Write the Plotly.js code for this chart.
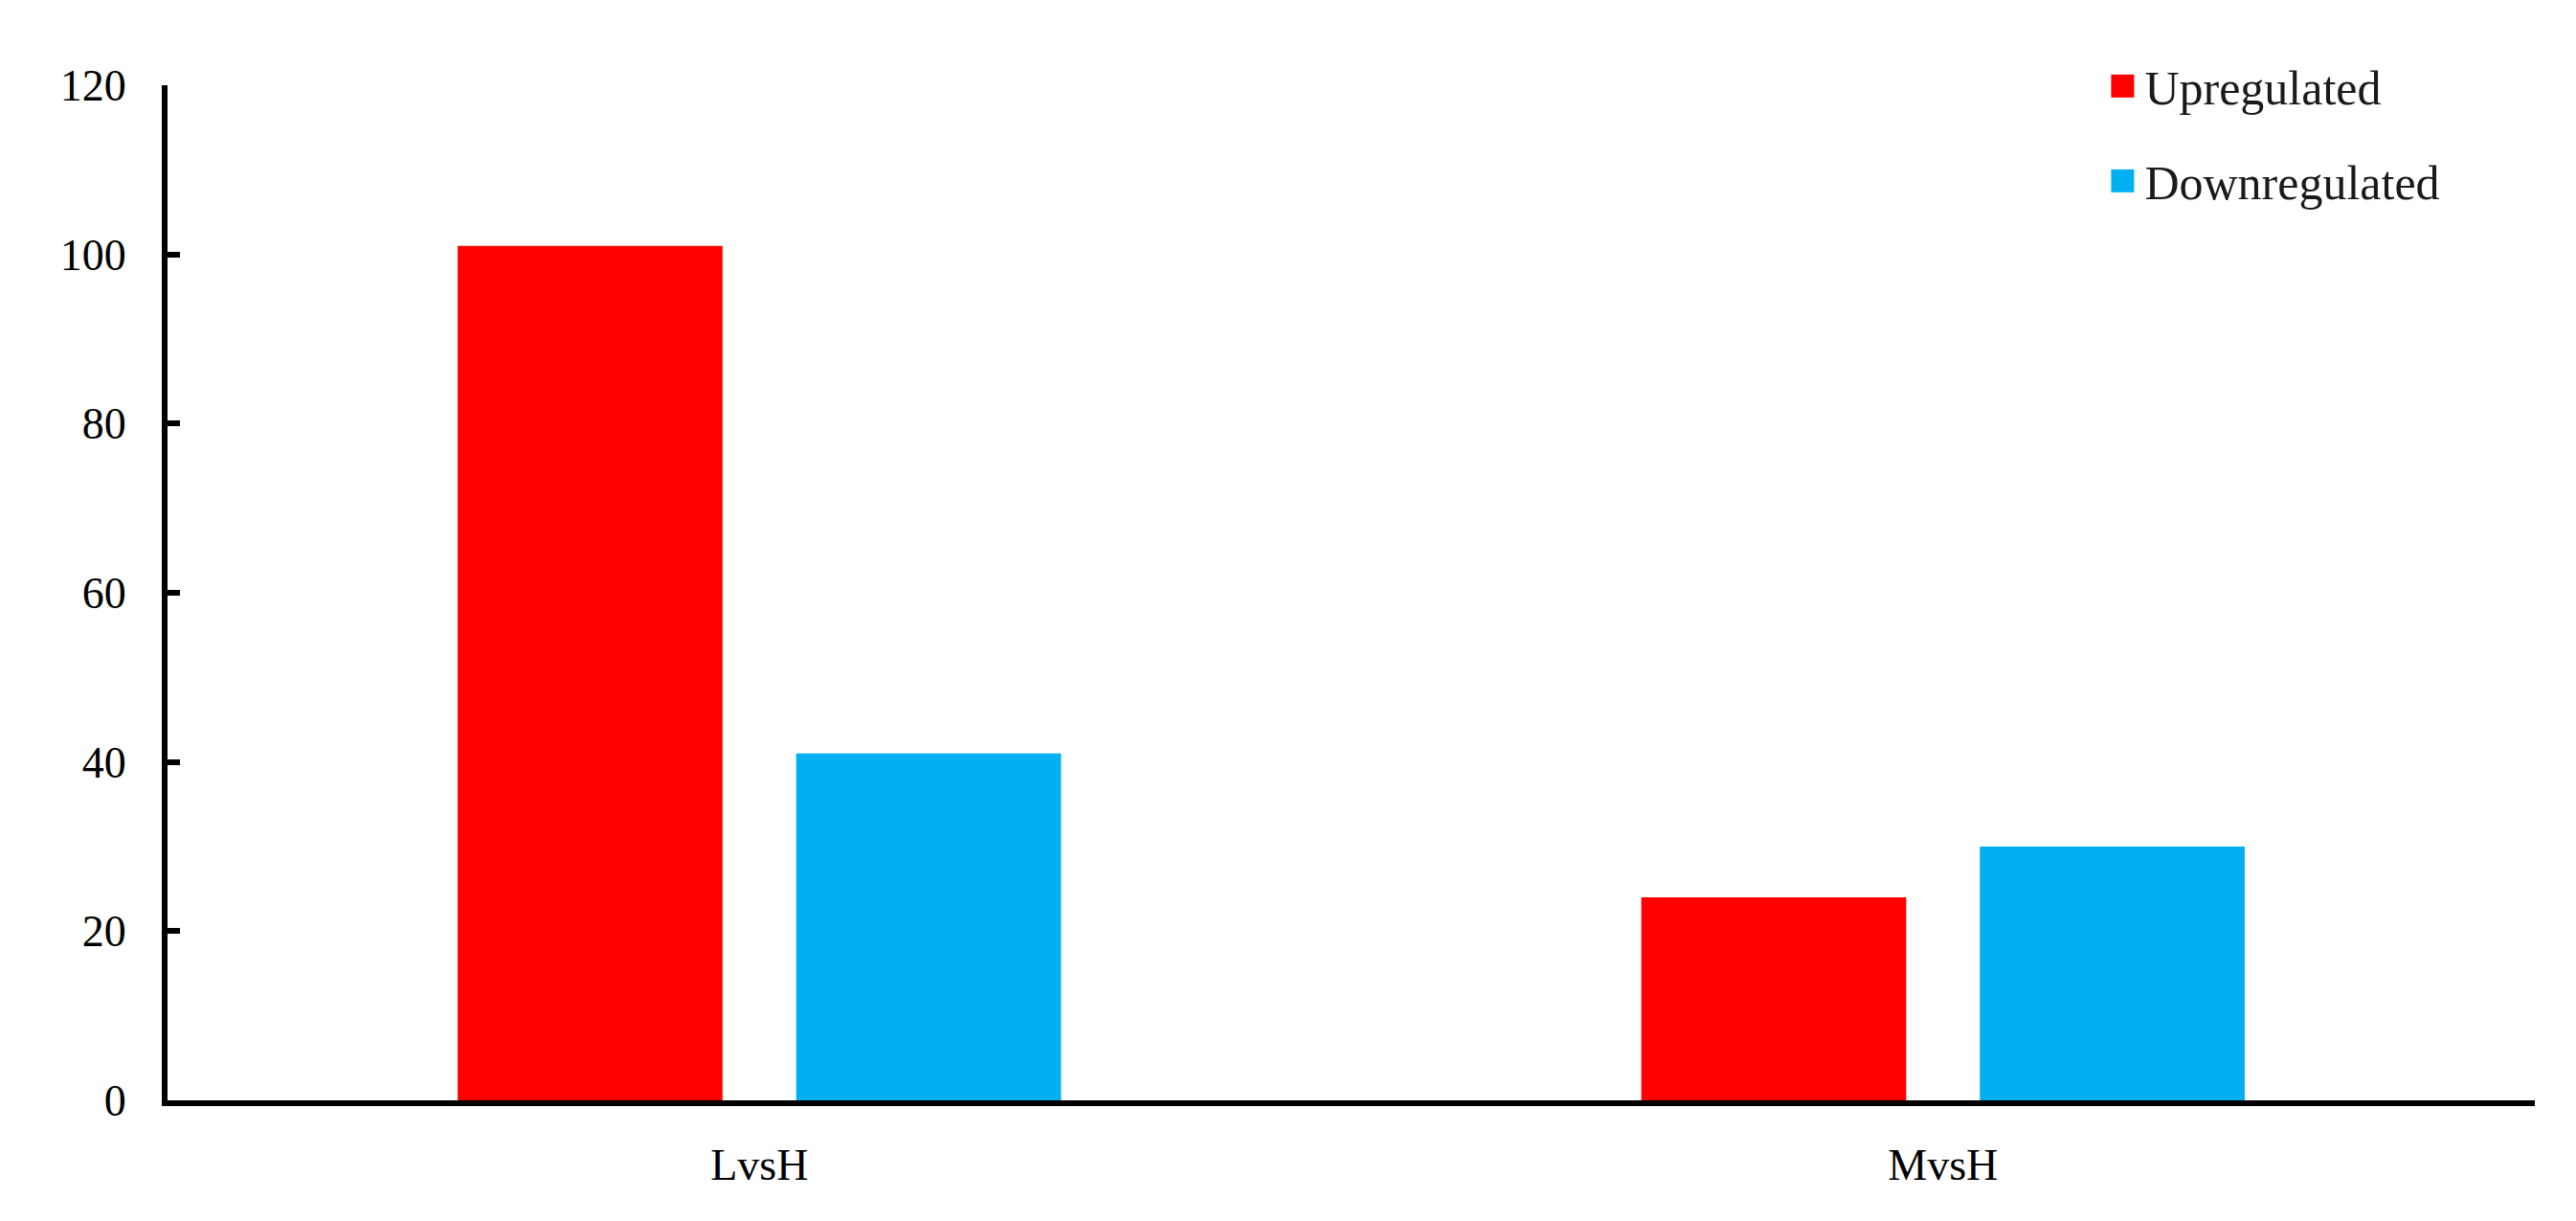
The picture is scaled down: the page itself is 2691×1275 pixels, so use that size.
<!DOCTYPE html>
<html>
<head>
<meta charset="utf-8">
<script src="https://cdn.plot.ly/plotly-3.0.1.min.js"></script>
<style>
html, body { margin: 0; padding: 0; background: #fff; }
#chart { width: 2691px; height: 1275px; }
.legend .scrollbox, .legend .groups, .legend .traces, .legend .legendpoints { clip-path: none !important; }
.legend .legendpoints path { transform-box: fill-box; transform-origin: center; transform: translate(17px, 0px) scale(2); }
</style>
</head>
<body>
<div id="chart"></div>
<script>
var categories = ["LvsH", "MvsH"];
var upregulated = [101, 24];
var downregulated = [41, 30];
var seriesNames = ["Upregulated", "Downregulated"];
var yTickValues = [0, 20, 40, 60, 80, 100, 120];

var fontFamily = '"Liberation Serif", "Times New Roman", Times, serif';

var traces = [
  {
    type: "bar",
    name: seriesNames[0],
    x: categories,
    y: upregulated,
    marker: { color: "#FF0000" },
    legendgroup: "up",
    hoverinfo: "x+y+name"
  },
  {
    type: "bar",
    name: seriesNames[1],
    x: categories,
    y: downregulated,
    marker: { color: "#00B0F0" },
    legendgroup: "down",
    hoverinfo: "x+y+name"
  }
];

var layout = {
  width: 2691,
  height: 1275,
  paper_bgcolor: "#ffffff",
  plot_bgcolor: "#ffffff",
  margin: { l: 175, r: 43, t: 89, b: 126, pad: 0 },
  barmode: "group",
  bargap: 0.428,
  bargroupgap: 0.2175,
  font: { family: fontFamily, size: 46, color: "#000" },
  showlegend: true,
  legend: {
    x: 0.819,
    xanchor: "left",
    y: 1.036,
    yanchor: "top",
    traceorder: "grouped",
    tracegroupgap: 31,
    bgcolor: "rgba(0,0,0,0)",
    font: { family: fontFamily, size: 50, color: "#1a1a1a" }
  },
  xaxis: {
    type: "category",
    showgrid: false,
    zeroline: false,
    showline: true,
    linecolor: "#000",
    linewidth: 6,
    ticks: "",
    ticklabelstandoff: 22,
    tickfont: { family: fontFamily, size: 46, color: "#000" },
    fixedrange: true
  },
  yaxis: {
    range: [0, 120],
    tickvals: yTickValues,
    ticktext: yTickValues.map(String),
    showgrid: false,
    zeroline: false,
    showline: true,
    linecolor: "#000",
    linewidth: 6,
    ticks: "inside",
    ticklen: 13,
    tickwidth: 6,
    tickcolor: "#000",
    ticklabelstandoff: 28,
    tickfont: { family: fontFamily, size: 46, color: "#000" },
    fixedrange: true
  }
};

Plotly.newPlot("chart", traces, layout, { displayModeBar: false, staticPlot: true });
</script>
</body>
</html>
